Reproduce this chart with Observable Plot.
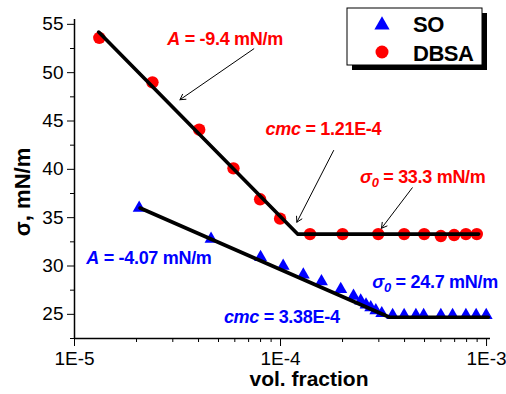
<!DOCTYPE html>
<html><head><meta charset="utf-8">
<script src="https://cdn.jsdelivr.net/npm/d3@7"></script>
<script src="https://cdn.jsdelivr.net/npm/@observablehq/plot@0.6"></script>
<style>
body{margin:0;background:#fff}
svg{font-family:"Liberation Sans",Arial,sans-serif}
</style>
</head><body><div id="chart"></div>
<script>
// ---- data ----
const soX = [2.06e-5, 4.6e-5, 8.0e-5, 1.03e-4, 1.29e-4, 1.58e-4, 1.96e-4, 2.26e-4, 2.45e-4, 2.6e-4, 2.74e-4, 2.9e-4, 3.1e-4, 3.5e-4, 3.98e-4, 4.54e-4, 4.95e-4, 6.0e-4, 6.84e-4, 7.94e-4, 8.9e-4, 9.96e-4];
const soY = [36.0, 32.8, 30.9, 30.0, 29.1, 28.4, 27.6, 26.9, 26.4, 26.0, 25.7, 25.4, 25.1, 24.9, 24.9, 24.9, 24.9, 24.9, 24.9, 24.9, 24.9, 24.9];
const dbsaX = [1.32e-5, 2.39e-5, 4.03e-5, 5.91e-5, 7.96e-5, 9.95e-5, 1.39e-4, 2.0e-4, 2.98e-4, 3.98e-4, 4.98e-4, 6.0e-4, 6.96e-4, 7.94e-4, 8.97e-4];
const dbsaY = [53.6, 49.0, 44.1, 40.1, 36.9, 34.9, 33.3, 33.3, 33.3, 33.3, 33.3, 33.1, 33.2, 33.3, 33.3];
const soFitX = [2.08e-5, 3.38e-4, 1.02e-3];
const soFitY = [36.0, 24.7, 24.7];
const dbsaFitX = [1.31e-5, 1.21e-4, 9.15e-4];
const dbsaFitY = [54.2, 33.3, 33.3];

const xMajor = [1e-5, 1e-4, 1e-3];
const xMajorLabels = ["1E-5", "1E-4", "1E-3"];
const xMinor = [2e-5,3e-5,4e-5,5e-5,6e-5,7e-5,8e-5,9e-5,2e-4,3e-4,4e-4,5e-4,6e-4,7e-4,8e-4,9e-4];
const yMajor = [25, 30, 35, 40, 45, 50, 55];
const yMinor = [22.5, 27.5, 32.5, 37.5, 42.5, 47.5, 52.5];

const annText = ["A = -9.4 mN/m", "cmc = 1.21E-4", "σ0 = 33.3 mN/m", "A = -4.07 mN/m", "cmc = 3.38E-4", "σ0 = 24.7 mN/m"];
const annX = [2.82e-5, 8.46e-5, 2.43e-4, 1.14e-5, 5.31e-5, 2.79e-4];
const annY = [53.42, 44.16, 39.23, 30.79, 24.74, 28.37];
const annColor = ["#ff0000", "#ff0000", "#ff0000", "#0000ff", "#0000ff", "#0000ff"];

const arrX1 = [7.42e-5, 1.81e-4, 4.36e-4];
const arrY1 = [52.47, 41.95, 38.09];
const arrX2 = [3.25e-5, 1.20e-4, 3.09e-4];
const arrY2 = [47.2, 34.53, 33.9];

const legendNames = ["SO", "DBSA"];
const colors = {SO: "#0000ff", DBSA: "#ff0000"};

// ---- tables ----
const so = soX.map((x, i) => ({x, y: soY[i]}));
const dbsa = dbsaX.map((x, i) => ({x, y: dbsaY[i]}));
const soFit = soFitX.map((x, i) => ({x, y: soFitY[i]}));
const dbsaFit = dbsaFitX.map((x, i) => ({x, y: dbsaFitY[i]}));
const ann = annText.map((t, i) => ({t, x: annX[i], y: annY[i], c: annColor[i]}));
const arrows = arrX1.map((x1, i) => ({x1, y1: arrY1[i], x2: arrX2[i], y2: arrY2[i]}));

const W = 506, H = 394;
const plot = Plot.plot({
  width: W, height: H,
  marginLeft: 74, marginRight: 16, marginTop: 19, marginBottom: 56,
  style: {fontFamily: '"Liberation Sans",Arial,sans-serif', background: "#fff", color: "#000"},
  x: {type: "log", domain: [1e-5, 1.045e-3]},
  y: {domain: [22.5, 55.5]},
  marks: [
    Plot.axisY({ticks: yMinor, tickSize: 4, text: null, label: null}),
    Plot.axisY({ticks: yMajor, tickSize: 7, tickPadding: 4, fontSize: 19, label: null, tickFormat: d => String(d)}),
    Plot.axisX({ticks: xMinor, tickSize: 4, text: null, label: null}),
    Plot.axisX({ticks: xMajor, tickSize: 8, tickPadding: 5, fontSize: 19, label: null, tickFormat: d => xMajorLabels[xMajor.indexOf(d)]}),
    Plot.ruleX([1e-5], {strokeWidth: 1.5}),
    Plot.ruleY([22.5], {strokeWidth: 1.5}),
    Plot.dot(dbsa, {x: "x", y: "y", r: 6.2, fill: colors.DBSA, stroke: "none"}),
    Plot.dot(so, {x: "x", y: "y", r: 4.8, symbol: "triangle", fill: colors.SO, stroke: "none"}),
    Plot.line(dbsaFit, {x: "x", y: "y", stroke: "#000", strokeWidth: 3.6}),
    Plot.line(soFit, {x: "x", y: "y", stroke: "#000", strokeWidth: 3.6}),
    Plot.arrow(arrows, {x1: "x1", y1: "y1", x2: "x2", y2: "y2", stroke: "#000", strokeWidth: 1, headLength: 9}),
    Plot.text(ann, {x: "x", y: "y", text: "t", fill: "c", textAnchor: "start", fontSize: 18, fontWeight: "bold"})
  ]
});

const svg = d3.select(plot);
// rich formatting of annotations
svg.selectAll("text").filter(function() { return annText.includes(this.textContent); }).each(function() {
  const t = d3.select(this);
  const s = this.textContent;
  t.text("");
  t.style("letter-spacing", "-0.3px");
  if (s.startsWith("σ0")) {
    t.append("tspan").attr("font-style", "italic").text("σ");
    t.append("tspan").attr("font-style", "italic").attr("font-size", "0.72em").attr("dy", "0.32em").text("0");
    t.append("tspan").attr("dy", "-0.23em").text(s.slice(2));
  } else if (s.startsWith("cmc")) {
    t.append("tspan").attr("font-style", "italic").text("cmc");
    t.append("tspan").text(s.slice(3));
  } else if (s.startsWith("A")) {
    t.append("tspan").attr("font-style", "italic").text("A");
    t.append("tspan").text(s.slice(1));
  }
});

// axis titles
svg.append("text").attr("x", 309).attr("y", 386).attr("text-anchor", "middle")
  .attr("font-size", 21).attr("font-weight", "bold").attr("fill", "#000").text("vol. fraction");
svg.append("text").attr("transform", "translate(30,192) rotate(-90)").attr("text-anchor", "middle")
  .attr("font-size", 22).attr("font-weight", "bold").attr("fill", "#000").text("σ, mN/m");

// legend
const lg = svg.append("g").attr("text-anchor", "start");
lg.append("rect").attr("x", 352).attr("y", 13).attr("width", 135).attr("height", 57).attr("fill", "#000");
lg.append("rect").attr("x", 347).attr("y", 8).attr("width", 135).attr("height", 57).attr("fill", "#fff").attr("stroke", "#000").attr("stroke-width", 1);
lg.append("path").attr("d", d3.symbol(d3.symbolTriangle, 100)()).attr("transform", "translate(382,25)").attr("fill", colors.SO);
lg.append("circle").attr("cx", 382).attr("cy", 52).attr("r", 6.5).attr("fill", colors.DBSA);
legendNames.forEach((n, i) => {
  lg.append("text").attr("x", 413).attr("y", 32 + i * 29).attr("text-anchor", "start").attr("font-size", 22).attr("font-weight", "bold").attr("fill", "#000").style("letter-spacing", "-0.5px").text(n);
});

document.getElementById("chart").appendChild(plot);
</script>
</body></html>
